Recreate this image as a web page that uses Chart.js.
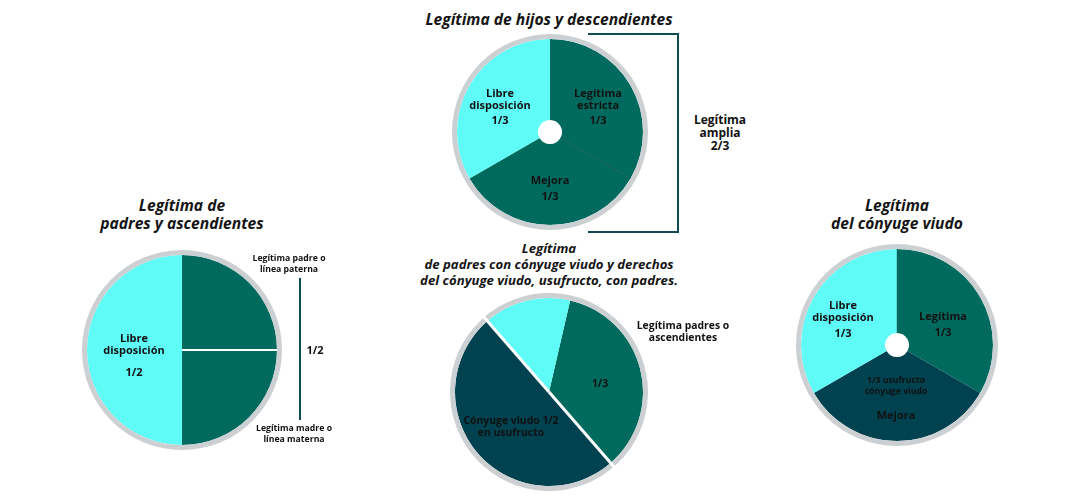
<!DOCTYPE html>
<html>
<head>
<meta charset="utf-8">
<script src="https://cdn.jsdelivr.net/npm/chart.js@4"></script>
<style>
  html,body{margin:0;padding:0;background:#fff;}
  #wrap{position:relative;width:1080px;height:500px;overflow:hidden;font-family:"Open Sans",sans-serif;color:#111;}
  canvas{position:absolute;}
  .t{position:absolute;font-weight:700;font-style:italic;font-size:15.6px;line-height:18px;text-align:center;white-space:nowrap;transform:translateX(-50%);color:#151515;}
  .t3{font-size:13.2px;line-height:16px;}
  .l{position:absolute;font-weight:700;font-size:11px;line-height:12px;text-align:center;white-space:nowrap;transform:translateX(-50%);color:#111;}
  .m{font-size:10.4px;}
  .s{font-size:8.7px;line-height:10.5px;}
  .br{position:absolute;background:#0f4b55;}
</style>
</head>
<body>
<div id="wrap">
  <canvas id="c1" width="196" height="196" style="left:452px;top:34px;width:196px;height:196px"></canvas>
  <canvas id="c2" width="200" height="200" style="left:82px;top:250px;width:200px;height:200px"></canvas>
  <canvas id="c3" width="198" height="198" style="left:450px;top:293px;width:198px;height:198px"></canvas>
  <canvas id="c4" width="202" height="202" style="left:796px;top:244px;width:202px;height:202px"></canvas>

  <!-- titles -->
  <div class="t" style="left:549px;top:10px">Legítima de hijos y descendientes</div>
  <div class="t" style="left:182px;top:196px">Legítima de<br>padres y ascendientes</div>
  <div class="t t3" style="left:549px;top:240px">Legítima<br>de padres con cónyuge viudo y derechos<br>del cónyuge viudo, usufructo, con padres.</div>
  <div class="t" style="left:897px;top:196px">Legítima<br>del cónyuge viudo</div>

  <!-- chart 1 labels -->
  <div class="l" style="left:500px;top:87px">Libre<br>disposición</div>
  <div class="l" style="left:500px;top:114px">1/3</div>
  <div class="l" style="left:598px;top:87px">Legítima<br>estricta</div>
  <div class="l" style="left:598px;top:114px">1/3</div>
  <div class="l" style="left:550px;top:174px">Mejora</div>
  <div class="l" style="left:550px;top:190px">1/3</div>
  <div class="br" style="left:588px;top:33px;width:91px;height:2px"></div>
  <div class="br" style="left:677px;top:33px;width:2px;height:200px"></div>
  <div class="br" style="left:588px;top:231px;width:91px;height:2px"></div>
  <div class="l" style="left:720px;top:113px;font-size:12px;line-height:13px">Legítima<br>amplia<br>2/3</div>

  <!-- chart 2 labels -->
  <div class="l" style="left:134px;top:332px">Libre<br>disposición</div>
  <div class="l" style="left:134px;top:366px">1/2</div>
  <div class="l s" style="left:289px;top:253px">Legítima padre o<br>línea paterna</div>
  <div class="br" style="left:299px;top:278px;width:2px;height:142px"></div>
  <div class="l" style="left:315px;top:344px">1/2</div>
  <div class="l s" style="left:294px;top:423px">Legítima madre o<br>línea materna</div>

  <!-- chart 3 labels -->
  <div class="l m" style="left:683px;top:319px">Legítima padres o<br>ascendientes</div>
  <div class="l m" style="left:600px;top:377px">1/3</div>
  <div class="l m" style="left:511px;top:414px">Cónyuge viudo 1/2<br>en usufructo</div>

  <!-- chart 4 labels -->
  <div class="l" style="left:843px;top:299px">Libre<br>disposición</div>
  <div class="l" style="left:843px;top:327px">1/3</div>
  <div class="l" style="left:943px;top:310px">Legítima</div>
  <div class="l" style="left:943px;top:326px">1/3</div>
  <div class="l s" style="left:896px;top:375px">1/3 usufructo<br>cónyuge viudo</div>
  <div class="l" style="left:896px;top:409px">Mejora</div>
</div>
<script>
// ---- data ----
const hijosLabels = ['Legítima estricta', 'Mejora', 'Libre disposición'];
const hijosValues = [1, 1, 1];

const padresLabels = ['Legítima padre o línea paterna', 'Legítima madre o línea materna', 'Libre disposición'];
const padresValues = [1, 1, 2];

const conyPadresLabels = ['Legítima padres o ascendientes', 'Cónyuge viudo 1/2 en usufructo', 'Libre disposición'];
const conyPadresValues = [35, 50, 15];

const conyugeLabels = ['Legítima', 'Mejora / 1/3 usufructo cónyuge viudo', 'Libre disposición'];
const conyugeValues = [1, 1, 1];

const ringValues = [1];

// ---- colours ----
const CYAN = '#5ffbf7', TEAL = '#006a5e', NAVY = '#00424f', GRAY = '#cdd0d2';

const separators = {
  id: 'separators',
  afterDatasetsDraw(chart, args, opts) {
    const list = opts.lines || [];
    const meta = chart.getDatasetMeta(1);
    const ctx = chart.ctx;
    list.forEach(s => {
      const arc = meta.data[s.index];
      if (!arc) return;
      const a = s.edge === 'end' ? arc.endAngle : arc.startAngle;
      const r0 = s.from === 'inner' ? arc.innerRadius : 0;
      const r1 = arc.outerRadius + (s.extra || 0);
      ctx.save();
      ctx.strokeStyle = s.color;
      ctx.lineWidth = s.width;
      ctx.beginPath();
      ctx.moveTo(arc.x + r0 * Math.cos(a), arc.y + r0 * Math.sin(a));
      ctx.lineTo(arc.x + r1 * Math.cos(a), arc.y + r1 * Math.sin(a));
      ctx.stroke();
      ctx.restore();
    });
  }
};

function makePie(id, labels, values, colors, opt) {
  const size = document.getElementById(id).width;
  const R = size / 2;
  const ring = 5;
  const hole = opt.hole || 0;
  return new Chart(document.getElementById(id), {
    type: 'doughnut',
    data: {
      labels: labels,
      datasets: [
        { data: ringValues, backgroundColor: [GRAY], borderWidth: 0, weight: ring },
        { data: values, backgroundColor: colors, borderWidth: 0, weight: R - ring - hole }
      ]
    },
    options: {
      responsive: false,
      animation: false,
      events: [],
      cutout: hole,
      rotation: opt.rotation || 0,
      layout: { padding: 0 },
      plugins: {
        legend: { display: false },
        tooltip: { enabled: false },
        separators: { lines: opt.lines || [] }
      }
    },
    plugins: [separators]
  });
}

makePie('c1', hijosLabels, hijosValues, [TEAL, TEAL, CYAN], {
  hole: 12, rotation: 0,
  lines: [{ index: 1, edge: 'start', color: 'rgba(0,60,55,0.45)', width: 1, from: 'inner' }]
});
makePie('c2', padresLabels, padresValues, [TEAL, TEAL, CYAN], {
  rotation: 0,
  lines: [{ index: 1, edge: 'start', color: '#ffffff', width: 2 }]
});
makePie('c3', conyPadresLabels, conyPadresValues, [TEAL, NAVY, CYAN], {
  rotation: 13,
  lines: [
    { index: 1, edge: 'start', color: '#ffffff', width: 3, extra: 5 },
    { index: 1, edge: 'end', color: '#ffffff', width: 3, extra: 5 }
  ]
});
makePie('c4', conyugeLabels, conyugeValues, [TEAL, NAVY, CYAN], {
  hole: 12, rotation: 0,
  lines: [{ index: 0, edge: 'start', color: 'rgba(0,80,75,0.35)', width: 1, from: 'inner' }]
});
</script>
</body>
</html>
